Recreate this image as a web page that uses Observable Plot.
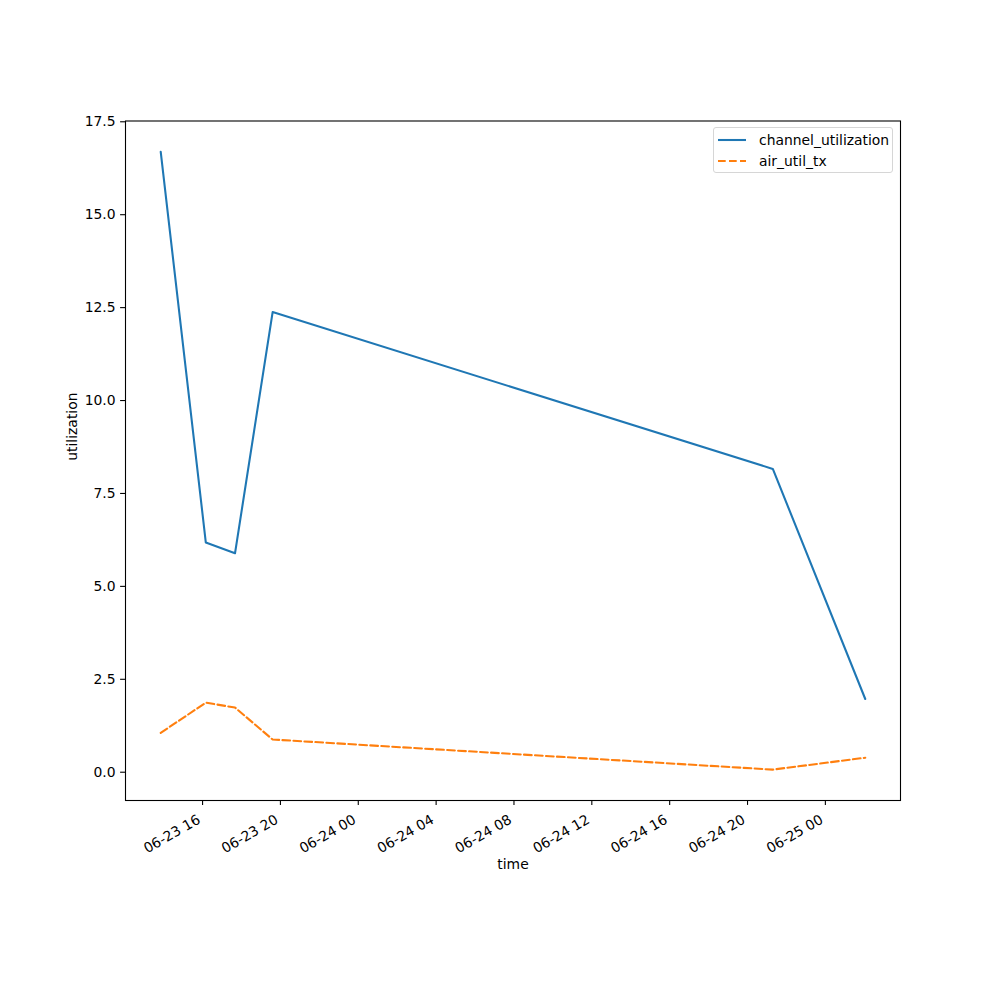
<!DOCTYPE html>
<html><head><meta charset="utf-8">
<script src="https://cdn.jsdelivr.net/npm/d3@7"></script>
<script src="https://cdn.jsdelivr.net/npm/@observablehq/plot@0.6"></script>
<style>
body{margin:0;background:#fff;}
#wrap{position:relative;width:1000px;height:1000px;font-family:"DejaVu Sans";}
#legend{position:absolute;left:713px;top:127px;width:180px;height:46px;border:1px solid #d6d6d6;border-radius:3px;background:rgba(255,255,255,0.8);box-sizing:border-box;font-size:13.9px;color:#000;}
#legend .row{position:absolute;left:3px;height:20px;display:flex;align-items:center;}
#legend svg{margin-right:12px;}
#dbg{position:absolute;left:10px;top:10px;font-size:12px;color:red;}
</style>
</head><body><div id="wrap"><div id="dbg"></div></div>
<script>
const times = ["2024-06-23T13:51:00Z","2024-06-23T16:10:00Z","2024-06-23T17:40:00Z","2024-06-23T19:36:00Z","2024-06-24T21:18:00Z","2024-06-25T02:03:00Z"];
const channelUtilization = [16.69, 6.18, 5.89, 12.38, 8.16, 1.97];
const airUtilTx = [1.06, 1.87, 1.74, 0.88, 0.07, 0.39];
const seriesNames = ["channel_utilization", "air_util_tx"];
const seriesColors = ["#1f77b4", "#ff7f0e"];
const xTickLabels = ["2024-06-23T16:00:00Z","2024-06-23T20:00:00Z","2024-06-24T00:00:00Z","2024-06-24T04:00:00Z","2024-06-24T08:00:00Z","2024-06-24T12:00:00Z","2024-06-24T16:00:00Z","2024-06-24T20:00:00Z","2024-06-25T00:00:00Z"];
const yTicks = [0, 2.5, 5, 7.5, 10, 12.5, 15, 17.5];

try {
const t = times.map(s => new Date(s));
const xTicksD = xTickLabels.map(s => new Date(s));
const chRows = t.map((d, i) => ({time: d, value: channelUtilization[i]}));
const airRows = t.map((d, i) => ({time: d, value: airUtilTx[i]}));
const tn = t.map(d => +d);
const tMin = Math.min(...tn), tMax = Math.max(...tn);
const xDom = [new Date(tMin - 0.05 * (tMax - tMin)), new Date(tMax + 0.05 * (tMax - tMin))];
const allY = channelUtilization.concat(airUtilTx);
const yMin = Math.min(...allY), yMax = Math.max(...allY);
const yDom = [yMin - 0.05 * (yMax - yMin), yMax + 0.05 * (yMax - yMin)];
const fmt = d => String(d.getUTCMonth() + 1).padStart(2, "0") + "-" + String(d.getUTCDate()).padStart(2, "0") + " " + String(d.getUTCHours()).padStart(2, "0");

const chart = Plot.plot({
  width: 1000, height: 1000,
  marginLeft: 125, marginRight: 100, marginTop: 120.5, marginBottom: 200,
  style: {fontFamily: "DejaVu Sans", fontSize: "13.9px", color: "#000", background: "#fff"},
  x: {type: "utc", domain: xDom},
  y: {domain: yDom},
  marks: [
    Plot.line(chRows, {x: "time", y: "value", stroke: seriesColors[0], strokeWidth: 2.08}),
    Plot.line(airRows, {x: "time", y: "value", stroke: seriesColors[1], strokeWidth: 2.08, strokeDasharray: "7.7,3.3"}),
    Plot.frame({stroke: "#000", strokeWidth: 1.1}),
    Plot.axisY({ticks: yTicks, tickFormat: d => d.toFixed(1), tickSize: 4.9, tickPadding: 5, label: null, strokeWidth: 1.1}),
    Plot.axisX({ticks: xTicksD, tickFormat: () => "", tickSize: 4.9, label: null, strokeWidth: 1.1}),
    Plot.text(xTicksD, {x: d => d, frameAnchor: "bottom", text: fmt, rotate: -30, textAnchor: "end", lineAnchor: "middle", dx: -3.5, dy: 18, fontSize: 13.9}),
    Plot.text(["utilization"], {frameAnchor: "left", dx: -53, rotate: -90, text: d => d, fontSize: 13.9}),
    Plot.text(["time"], {frameAnchor: "bottom", dy: 68, text: d => d, fontSize: 13.9})
  ]
});
const wrap = document.getElementById("wrap");
wrap.appendChild(chart);

const legend = document.createElement("div");
legend.id = "legend";
seriesNames.forEach((name, i) => {
  const row = document.createElement("div");
  row.className = "row";
  row.style.top = (1.5 + i * 21.5) + "px";
  row.innerHTML = `<svg width="30" height="10"><line x1="1" y1="5" x2="29" y2="5" stroke="${seriesColors[i]}" stroke-width="2.08" ${i === 1 ? 'stroke-dasharray="7.7,3.3"' : ''}/></svg><span>${name}</span>`;
  legend.appendChild(row);
});
wrap.appendChild(legend);
} catch (e) { document.getElementById("dbg").textContent = e.message; }
</script>
</body></html>
